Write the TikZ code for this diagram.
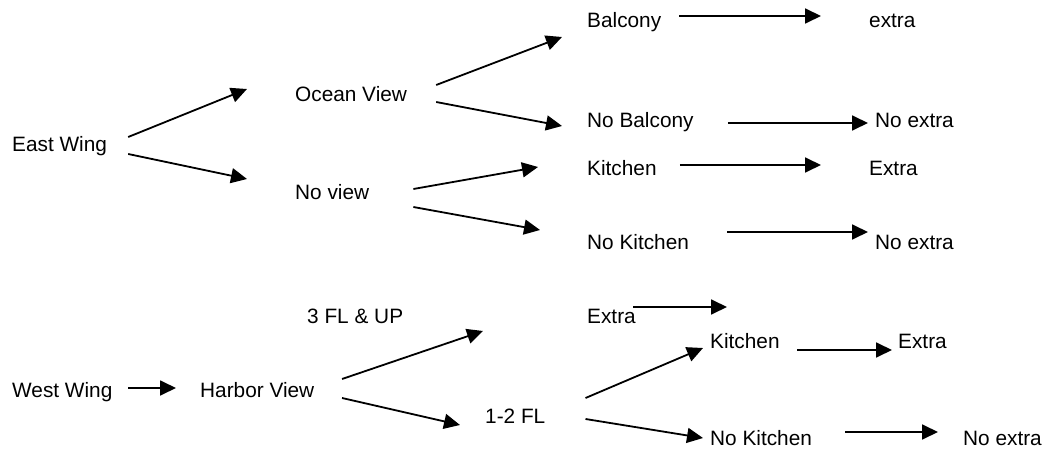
\documentclass[tikz,border=0pt]{standalone}
\usepackage{fontspec}
\setmainfont{Liberation Sans}
\usetikzlibrary{arrows.meta}
\begin{document}
\begin{tikzpicture}[x=1pt,y=-1pt,
  lbl/.style={anchor=base west,inner sep=0pt,font=\fontsize{20.8}{24}\selectfont},
  arr/.style={line width=1.8pt,-{Triangle[length=16pt,width=15pt]}}]
\useasboundingbox[fill=white] (0,0) rectangle (1052,449);
% nodes
\node[lbl] (ew) at (12,152) {East Wing};
\node[lbl] (ov) at (295,102) {Ocean View};
\node[lbl] (nv) at (295,200) {No view};
\node[lbl] (bal) at (587,28) {Balcony};
\node[lbl] (nbal) at (587,128) {No Balcony};
\node[lbl] (kit) at (587,176) {Kitchen};
\node[lbl] (nkit) at (587,249) {No Kitchen};
\node[lbl] (ex1) at (869,28) {extra};
\node[lbl] (nex1) at (875,128) {No extra};
\node[lbl] (ex2) at (869,176) {Extra};
\node[lbl] (nex2) at (875,249) {No extra};
\node[lbl] (ww) at (12,397) {West Wing};
\node[lbl] (hv) at (200,397) {Harbor View};
\node[lbl] (up) at (307,323) {3 FL \& UP};
\node[lbl] (ex3) at (587,323) {Extra};
\node[lbl] (fl) at (485,423) {1-2 FL};
\node[lbl] (kit2) at (710,348) {Kitchen};
\node[lbl] (ex4) at (898,348) {Extra};
\node[lbl] (nkit2) at (710,445) {No Kitchen};
\node[lbl] (nex3) at (963,445) {No extra};
\coordinate (free) at (727,307);
% connectors
\draw[arr] ([shift={(21,-15)}]ew.base east) -- ([shift={(-48,-13)}]ov.base west);
\draw[arr] ([shift={(21,2)}]ew.base east) -- ([shift={(-48,-21)}]nv.base west);
\draw[arr] ([shift={(29,-17)}]ov.base east) -- ([shift={(-25,9)}]bal.base west);
\draw[arr] ([shift={(29,0)}]ov.base east) -- ([shift={(-25,-2)}]nbal.base west);
\draw[arr] ([shift={(44,-11)}]nv.base east) -- ([shift={(-49,-9)}]kit.base west);
\draw[arr] ([shift={(44,7)}]nv.base east) -- ([shift={(-47,-19)}]nkit.base west);
\draw[arr] ([shift={(18,-12)}]bal.base east) -- ([shift={(-48,-12)}]ex1.base west);
\draw[arr] ([shift={(34,-5)}]nbal.base east) -- ([shift={(-7,-5)}]nex1.base west);
\draw[arr] ([shift={(23,-11)}]kit.base east) -- ([shift={(-48,-11)}]ex2.base west);
\draw[arr] ([shift={(38,-17)}]nkit.base east) -- ([shift={(-7,-17)}]nex2.base west);
\draw[arr] ([shift={(15.5,-9)}]ww.base east) -- ([shift={(-24,-9)}]hv.base west);
\draw[arr] ([shift={(27.6,-18)}]hv.base east) -- ([shift={(-104,8)}]ex3.base west);
\draw[arr] ([shift={(-2.5,-16)}]ex3.base east) -- (free);
\draw[arr] ([shift={(27.6,1)}]hv.base east) -- ([shift={(-25,2)}]fl.base west);
\draw[arr] ([shift={(40,-25)}]fl.base east) -- ([shift={(-7,0)}]kit2.base west);
\draw[arr] ([shift={(40,-4)}]fl.base east) -- ([shift={(-7,-7)}]nkit2.base west);
\draw[arr] ([shift={(17.6,2)}]kit2.base east) -- ([shift={(-6,2)}]ex4.base west);
\draw[arr] ([shift={(33.3,-13)}]nkit2.base east) -- ([shift={(-25,-13)}]nex3.base west);
\end{tikzpicture}
\end{document}
